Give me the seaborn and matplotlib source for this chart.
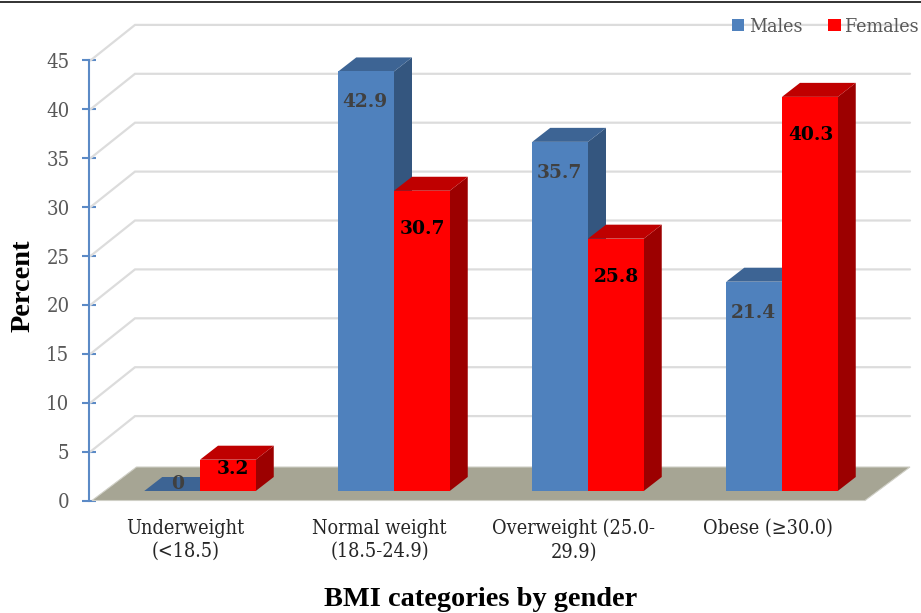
import numpy as np
import pandas as pd
import matplotlib
matplotlib.use("Agg")
import matplotlib.pyplot as plt
from matplotlib.lines import Line2D
from matplotlib.patches import Polygon, Patch
import seaborn as sns

categories = ["Underweight\n(<18.5)", "Normal weight\n(18.5-24.9)", "Overweight (25.0-\n29.9)", "Obese (≥30.0)"]
males = [0, 42.9, 35.7, 21.4]
females = [3.2, 30.7, 25.8, 40.3]
series_names = ["Males", "Females"]
y_ticks = list(range(0, 50, 5))
x_title = "BMI categories by gender"
y_title = "Percent"

W, H = 921, 613
sns.set_theme(style="white")
SERIF = "DejaVu Serif"
plt.rcParams["font.family"] = [SERIF]

fig = plt.figure(figsize=(W / 100, H / 100), dpi=100, facecolor="white")
PX_Y = 9.78          # pixels per percent
PX_X = 194.0         # pixels per category
Y0 = 500.5           # pixel row of value 0
AX_L, AX_R = 88.5, 865.0
AX_T = 60.4
ax = fig.add_axes([AX_L / W, 1 - Y0 / H, (AX_R - AX_L) / W, (Y0 - AX_T) / H])

df = pd.DataFrame({
    "cat": categories * 2,
    "sex": [series_names[0]] * 4 + [series_names[1]] * 4,
    "val": males + females,
})
colors = {"Males": "#4F81BD", "Females": "#FF0000"}
sides = {"Males": "#34567F", "Females": "#9C0000"}
tops = {"Males": "#3D6494", "Females": "#BF0000"}

sns.barplot(data=df, x="cat", y="val", hue="sex", order=categories, hue_order=series_names,
            palette=colors, width=111.5 / PX_X, gap=0, saturation=1, ax=ax, legend=False,
            linewidth=0, zorder=5)
ax.set_xlim((AX_L - 200) / PX_X, (AX_R - 200) / PX_X)
ax.set_ylim(0, 45)

px_x = lambda p: p / PX_X
px_y = lambda p: p / PX_Y
BASE = px_y(9.5)
DX, DY = px_x(18), px_y(14)

# back wall grid
WALL_DX, WALL_DY = px_x(46.5), px_y(35.5)
x_left, x_right = ax.get_xlim()
x_right_wall = x_left + px_x(910 - AX_L)
for v in y_ticks[1:]:
    ax.plot([x_left + px_x(2), x_left + WALL_DX, x_right_wall], [v, v + WALL_DY, v + WALL_DY],
            color="#DCDCDC", lw=1.6, clip_on=False, zorder=1, solid_joinstyle="miter")

# floor
FL_DY = px_y(33.5)
ax.add_patch(Polygon([(x_left + px_x(3.5), 0), (x_left + px_x(48), FL_DY), (x_right_wall, FL_DY), (x_right, 0)],
                     closed=True, facecolor="#A6A594", edgecolor="#CFCFC6", lw=0.8, clip_on=False, zorder=2))

# extruded bars
bars = [b for b in ax.patches if isinstance(b, matplotlib.patches.Rectangle)]
n = len(categories)
order = []
for i in range(n):
    order += [(bars[i], series_names[0], males[i]), (bars[n + i], series_names[1], females[i])]
for k, (b, name, v) in enumerate(order):
    x0 = b.get_x()
    x1 = x0 + b.get_width()
    b.set_y(BASE)
    b.set_clip_on(False)
    z = 3 + 0.01 * k
    top = BASE + v
    ax.add_patch(Polygon([(x1, BASE), (x1 + DX, BASE + DY), (x1 + DX, top + DY), (x1, top)],
                         closed=True, facecolor=sides[name], lw=0, clip_on=False, zorder=z))
    ax.add_patch(Polygon([(x0, top), (x0 + DX, top + DY), (x1 + DX, top + DY), (x1, top)],
                         closed=True, facecolor=tops[name], lw=0, clip_on=False, zorder=z + 0.005))
    drop = min(30 if name == "Males" else 37, -8 + 5.2 * v)
    nudge = 5 if v < 5 else (-1 if name == "Males" else 1)
    ax.text((x0 + x1) / 2 + px_x(nudge), top - px_y(drop + 1), f"{v:g}",
            ha="center", va="center", fontsize=13.4, fontweight="bold", family=SERIF,
            color="#404040" if name == "Males" else "#000000", zorder=8)

# axes
for s in ["top", "right", "bottom"]:
    ax.spines[s].set_visible(False)
ax.spines["left"].set_color("#5B8AC6")
ax.spines["left"].set_linewidth(1.5)
ax.spines["left"].set_zorder(6)
ax.set_yticks(y_ticks)
ax.set_yticklabels([str(t) for t in y_ticks])
ax.tick_params(axis="y", direction="inout", length=9.5, width=1.5, color="#5B8AC6",
               labelcolor="#595959", labelsize=14.6, pad=9, left=True)
ax.set_xticks(np.arange(n) - px_x(14.5))
ax.set_xticklabels(categories)
ax.tick_params(axis="x", length=0, pad=13, labelsize=14.2, labelcolor="#262626")
for lab in ax.get_xticklabels():
    lab.set_fontstretch("condensed")
    lab.set_linespacing(1.3)
for lab in ax.get_yticklabels():
    lab.set_fontstretch("condensed")
ax.set_xlabel("")
ax.set_ylabel("")
ax.patch.set_alpha(0)

fig.text(481 / W, 1 - 600 / H, x_title, ha="center", va="center", fontsize=20.4, fontweight="bold",
         family="Liberation Serif", color="black")
fig.text(23 / W, 1 - 286 / H, y_title, ha="center", va="center", rotation=90, fontsize=20.4,
         fontweight="bold", family="Liberation Serif", color="black")

# legend
handles = [Patch(facecolor=colors[s], lw=0) for s in series_names]
leg = fig.legend(handles, series_names, ncol=2, frameon=False, loc="center right",
                 bbox_to_anchor=(919 / W, 1 - 27 / H), fontsize=14, handlelength=0.62, handleheight=0.62,
                 handletextpad=0.25, columnspacing=1.35, labelcolor="#595959", borderpad=0, borderaxespad=0)
for t in leg.get_texts():
    t.set_fontstretch("condensed")

fig.add_artist(Line2D([0, 1], [1 - 1.5 / H, 1 - 1.5 / H], color="#222222", lw=1.3))
fig.savefig("out.png", dpi=100)
